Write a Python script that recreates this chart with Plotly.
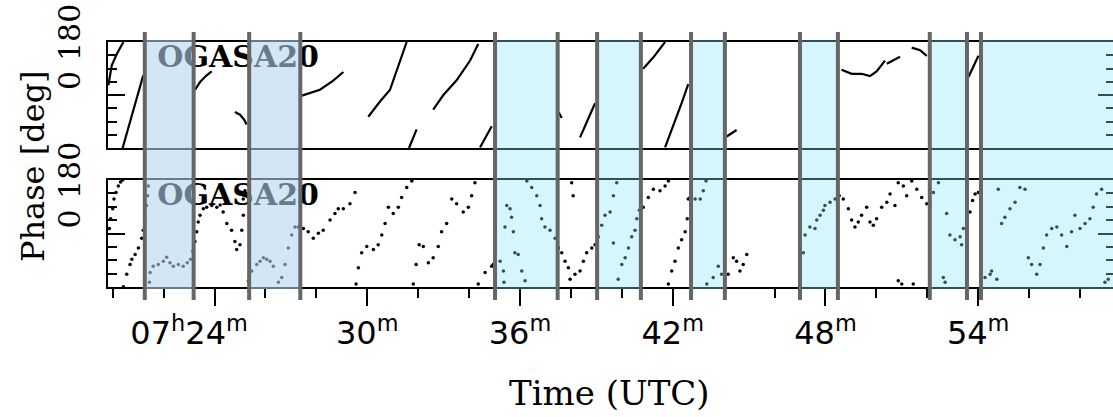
import plotly.graph_objects as go

# ---------------- data (minutes after 07h UTC, phase in degrees) ----------------
top_minutes = [19.83, 19.96, 20.16, 20.42, None,
               20.39, 20.75, 21.20, None,
               23.23, 23.43, 23.69, 23.89, None,
               24.80, 25.00, 25.16, 25.26, None,
               27.43, 28.14, 28.65, 29.06, None,
               30.04, 30.50, 30.89, 31.16, 31.55, None,
               31.64, 31.94, None,
               32.59, 32.99, 33.51, 34.04, 34.36, None,
               34.43, 34.89, None,
               37.52, 37.64, None,
               38.36, 38.95, None,
               40.84, 41.24, 41.70, None,
               41.70, 42.02, 42.35, 42.61, None,
               44.12, 44.51, None,
               48.63, 49.03, 49.42, 49.75, 50.01, 50.34, None,
               50.41, 50.93, None,
               51.39, 51.72, 51.98, None,
               53.62, 54.01]
top_phase = [33, 100, 139, 180, None,
             -180, -67, 67, None,
             17, 44, 67, 80, None,
             -58, -67, -83, -100, None,
             -2, 18, 48, 78, None,
             -74, -22, 17, 83, 180, None,
             -180, -117, None,
             -50, 0, 50, 117, 173, None,
             -178, -106, None,
             -59, -78, None,
             -144, -28, None,
             89, 128, 180, None,
             -178, -106, -28, 37, None,
             -141, -119, None,
             86, 72, 72, 64, 80, 117, None,
             106, 130, None,
             161, 152, 133, None,
             61, 133]

bottom_minutes = [
    19.87, 19.92, 20.00, 20.05, 20.13, 20.22, 20.31, 20.39,
    20.42, 20.55, 20.68, 20.75, 20.88, 21.01, 21.14, 21.20, 21.28, 21.33, 21.37, 21.40,
    21.44, 21.47, 21.59, 21.79, 21.99, 22.12, 22.25, 22.38, 22.58, 22.77, 22.93, 23.06, 23.14,
    23.23, 23.30, 23.36, 23.43, 23.56, 23.69, 23.89, 24.09, 24.22, 24.34, 24.48, 24.67, 24.80,
    24.87, 25.00, 25.07, 25.13, 25.13, 25.20,
    25.33, 25.46, 25.66, 25.79, 25.92, 26.05, 26.18, 26.31, 26.51, 26.64, 26.77, 26.90, 27.03,
    27.16, 27.29,
    27.49, 27.68, 27.88, 28.08, 28.27, 28.54, 28.73, 28.86, 29.06, 29.32, 29.52,
    29.56, 29.65, 29.78, 29.98, 30.24, 30.43, 30.57, 30.70, 30.83, 31.02, 31.22, 31.35, 31.55, 31.75,
    31.81, 31.92, 32.04, 32.20, 32.40, 32.59, 32.79, 32.92, 33.12, 33.32, 33.51, 33.77, 33.97, 34.10, 34.23,
    34.36, 34.63, 34.89, 34.95, 35.22, 35.35, 35.37, 35.41, 35.48, 35.61, 35.67, 35.74, 35.80, 35.93,
    36.07, 36.20, 36.27, 36.46, 36.66, 36.79, 36.85, 36.98, 37.18, 37.38, 37.51, 37.64, 37.77, 37.90,
    37.97, 38.16, 38.36, 38.49, 38.62, 38.82, 38.95, 38.03, 38.09,
    39.08, 39.21, 39.34, 39.54, 39.67, 39.80, 39.67, 39.86, 40.00, 40.13, 40.26, 40.39, 40.52, 40.59, 40.69,
    40.84, 41.04, 41.24, 41.50, 41.70, 41.83,
    41.83, 41.96, 42.09, 42.22, 42.35, 42.49, 42.57, 42.61,
    42.68, 42.88, 43.08, 43.20, 43.31, 43.34, 43.59, 43.79, 43.92, 44.05,
    44.18, 44.38, 44.51, 44.64, 44.77, 44.91,
    47.00, 47.13, 47.20, 47.39, 47.59, 47.66, 47.79, 47.92, 47.98, 48.18, 48.38, 48.54,
    48.70, 48.90, 49.03, 49.16, 49.29, 49.42, 49.62, 49.75, 49.88, 50.01, 50.21, 50.41, 50.54, 50.73,
    50.86, 51.06, 51.19, 51.39, 51.59, 51.78, 51.98, 50.86, 51.00, 51.45,
    52.11, 52.24, 52.44, 52.76, 52.89, 53.09, 53.29, 53.35, 52.63, 52.70, 53.42, 53.55,
    53.68, 53.78, 53.88, 54.01,
    54.27, 54.47, 54.53, 54.73, 54.79, 54.92, 55.05, 55.25, 55.45, 55.64, 55.84, 55.97, 56.10, 56.30,
    56.43, 56.56, 56.69, 56.89, 57.09, 57.28, 57.48, 57.67, 57.80, 58.00, 58.20, 58.39, 58.52, 58.65,
    58.85, 58.98, 59.11]
bottom_phase = [
    17, 50, 83, 116, 138, 160, 173, 180,
    -179, -137, -104, -87, -71, -49, -16, 11, 50, 94, 127, 160,
    -164, -131, -110, -104, -93, -80, -98, -110, -104, -110, -98, -87, -60,
    -27, 6, 39, 61, 83, 88, 94, 88, 96, 72, 34, 11, -27,
    -54, -38, 11, 61, 116, 144,
    -159, -126, -104, -93, -82, -87, -93, -110, -164, -148, -104, -49, -5,
    22, 22,
    17, 6, -16, 1, 11, 45, 67, 83, 83, 100, 138,
    -170, -115, -65, -44, -54, -38, -5, 34, 88, 67, 88, 121, 155, 177,
    -170, -104, -38, -44, -98, -82, -44, 6, 34, 116, 100, 72, 88, 127, 171,
    -170, -131, -110, -104, -93, -126, -164, 22, 94, 83, 55, 6, -65, -71,
    -126, -159, 177, 155, 127, 94, 50, 22, 11, -16, -49, -65, -93, -115,
    -154, -137, -126, -93, -65, -49, -38, 171, 127,
    -11, 28, 61, 72, 127, 171, -32, -154, -104, -82, -49, -11, 11, 50, 78,
    88, 121, 149, 144, 160, 177,
    -170, -126, -93, -49, -21, 6, 50, 116,
    121, 116, 116, 144, 177, -170, -148, -110, -137, -154,
    -137, -82, -93, -126, -104, -71,
    -77, -65, -5, 22, 17, 45, 61, 78, 94, 105, 116, 127,
    116, 83, 45, 22, 39, 61, 88, 39, 28, 50, 88, 105, 133, 94,
    171, 160, 127, 177, 149, 121, 100, -159, -170, -170,
    105, 138, 171, 67, -5, -21, -11, -38, -148, -164, 17, 45,
    72, 111, 133, 138,
    -148, -137, -126, -154, 149, 34, 55, 83, 105, 155, 149, -82, -104, -137,
    -104, -49, -5, 17, 22, -5, -44, 6, 61, 17, 34, 50, 88, 133,
    149, -164, -154]

# flagged intervals (minutes) and their kind
band_starts = [21.26, 25.36, 35.02, 39.03, 42.72, 47.00, 52.10, 54.11]
band_ends = [23.18, 27.37, 37.48, 40.75, 44.05, 48.49, 53.56, 60.00]
band_kind = ["early", "early", "late", "late", "late", "late", "late", "late"]

x_tick_vals = [24, 30, 36, 42, 48, 54]
x_tick_text = ["07<sup>h</sup>24<sup>m</sup>" + "\u00a0" * 5, "30<sup>m</sup>", "36<sup>m</sup>",
               "42<sup>m</sup>", "48<sup>m</sup>", "54<sup>m</sup>"]
y_tick_vals = [-180, 0, 180]
y_tick_text = ["", "0", "180"]
station_name = "OGASA20"

# ---------------- layout constants ----------------
X_RANGE = [19.815, 59.297]
LABEL_X = 21.75
LABEL_Y = 122
SERIF = "DejaVu Serif"
SANS = "DejaVu Sans"
BAND_FILL = {"early": "rgba(178,212,238,0.58)", "late": "rgba(137,229,249,0.35)"}
YLAB_X = -0.0388
YLAB_SHIFT = {"0": 14, "180": 9}

fig = go.Figure()

fig.add_trace(go.Scatter(x=top_minutes, y=top_phase, mode="lines",
                         line=dict(color="black", width=2.2), xaxis="x2", yaxis="y2",
                         connectgaps=False, hoverinfo="skip"))
fig.add_trace(go.Scatter(x=bottom_minutes, y=bottom_phase, mode="markers",
                         marker=dict(color="black", size=3.5, line=dict(width=0)),
                         xaxis="x", yaxis="y", hoverinfo="skip"))
for xa, ya in (("x2", "y2"), ("x", "y")):
    fig.add_trace(go.Scatter(x=[LABEL_X], y=[LABEL_Y], mode="text", text=[f"<b>{station_name}</b>"],
                             textposition="middle right",
                             textfont=dict(family=SERIF, size=30, color="black"),
                             xaxis=xa, yaxis=ya, hoverinfo="skip"))
fig.add_trace(go.Scatter(x=[], y=[], xaxis="x", yaxis="y3"))
fig.add_trace(go.Scatter(x=[], y=[], xaxis="x2", yaxis="y4"))

shapes = []
for s, e, k in zip(band_starts, band_ends, band_kind):
    shapes.append(dict(type="rect", xref="x", yref="paper", x0=s, x1=e, y0=-0.008, y1=1.008,
                       fillcolor=BAND_FILL[k], line=dict(width=0), layer="above"))
for s, e in zip(band_starts, band_ends):
    for v in (s, e):
        shapes.append(dict(type="line", xref="x", yref="paper", x0=v, x1=v, y0=-0.053, y1=1.041,
                           line=dict(color="#666666", width=4), layer="above"))

common_y = dict(range=[-180, 180], showline=True, linecolor="black", linewidth=2,
                ticks="inside", ticklen=17, tickwidth=2, tickcolor="black",
                tickmode="array", tickvals=y_tick_vals, ticktext=y_tick_text,
                showticklabels=False,
                minor=dict(ticks="inside", ticklen=9, tickwidth=2, tickcolor="black",
                           dtick=45, tick0=0, showgrid=False),
                showgrid=False, zeroline=False, fixedrange=True)
right_y = dict(range=[-180, 180], side="right", showline=False, ticks="inside", ticklen=15,
               tickwidth=2, tickcolor="black", tickmode="array", tickvals=y_tick_vals,
               showticklabels=False,
               minor=dict(ticks="inside", ticklen=7, tickwidth=2, tickcolor="black",
                          dtick=45, tick0=0, showgrid=False),
               showgrid=False, zeroline=False)

annotations = [
    dict(text="Phase [deg]", xref="paper", yref="paper", x=-0.0746, y=0.4939,
         xanchor="center", yanchor="middle", textangle=-90, showarrow=False,
         font=dict(family=SERIF, size=32, color="black")),
    dict(text="Time (UTC)", xref="paper", yref="paper", x=0.4995, y=-0.4327,
         xanchor="center", yanchor="middle", showarrow=False,
         font=dict(family=SERIF, size=34, color="black")),
]
# rotated phase tick labels for both panels
for ya in ("y", "y2"):
    for v, t in zip(y_tick_vals, y_tick_text):
        if t:
            annotations.append(dict(text=t, xref="paper", yref=ya, x=YLAB_X, y=v,
                                    xanchor="center", yanchor="middle", textangle=-90,
                                    yshift=YLAB_SHIFT[t], showarrow=False,
                                    font=dict(family=SERIF, size=30, color="black")))

fig.update_layout(
    width=1113, height=417,
    margin=dict(l=108, r=0, t=42, b=130),
    paper_bgcolor="white", plot_bgcolor="white",
    showlegend=False,
    xaxis=dict(domain=[0, 1], anchor="y", range=X_RANGE, showline=True, linecolor="black",
               linewidth=2, mirror=True, ticks="outside", ticklen=17, tickwidth=2,
               tickcolor="black", tickmode="array", tickvals=x_tick_vals, ticktext=x_tick_text,
               tickfont=dict(family=SANS, size=32, color="black"),
               minor=dict(ticks="outside", ticklen=9, tickwidth=2, tickcolor="black",
                          dtick=2, tick0=0, showgrid=False),
               showgrid=False, zeroline=False),
    xaxis2=dict(domain=[0, 1], anchor="y2", matches="x", range=X_RANGE, showline=True,
                linecolor="black", linewidth=2, mirror=True, ticks="", showticklabels=False,
                showgrid=False, zeroline=False),
    yaxis=dict(domain=[0, 0.43673], anchor="x", **common_y),
    yaxis2=dict(domain=[0.56735, 1], anchor="x2", **common_y),
    yaxis3=dict(overlaying="y", anchor="x", **right_y),
    yaxis4=dict(overlaying="y2", anchor="x2", **right_y),
    shapes=shapes,
    annotations=annotations,
)

fig.write_html("out.html")
